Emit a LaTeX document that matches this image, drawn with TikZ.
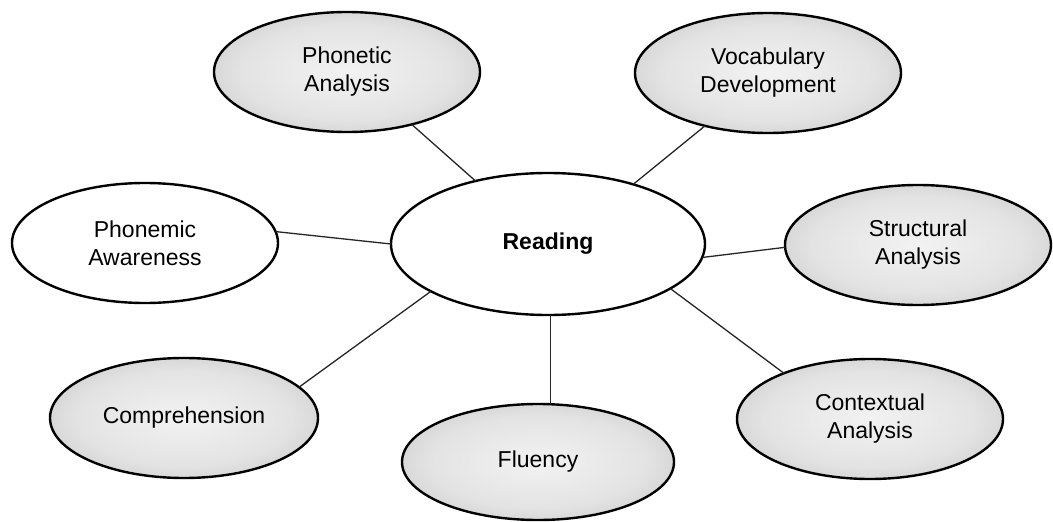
\documentclass[tikz,border=0pt]{standalone}
\usepackage{fontspec}
\setmainfont{Liberation Sans}
\usetikzlibrary{shapes.geometric}
\pgfdeclareradialshading{ellshade}{\pgfpoint{0bp}{0bp}}{color(0bp)=(black!5); color(20bp)=(black!11); color(50bp)=(black!36)}
\tikzset{
  bubble/.style={ellipse, draw=black, line width=2.4pt, inner sep=0pt, outer sep=0pt,
    align=center, font=\fontsize{23}{28}\selectfont, minimum width=266pt, minimum height=120pt},
  shadedbubble/.style={bubble, shading=ellshade},
  plainbubble/.style={bubble, fill=white},
  link/.style={draw=black!85, line width=1.3pt}
}
\begin{document}
\begin{tikzpicture}[x=1pt,y=-1pt]
\useasboundingbox[fill=white] (0,0) rectangle (1053,522);
\node[plainbubble, minimum width=314pt, minimum height=142pt, font=\bfseries\fontsize{23}{28}\selectfont] (R) at (548,244) {Reading};
\node[shadedbubble] (PA) at (347,72) {Phonetic\\Analysis};
\node[shadedbubble] (VD) at (768,73) {Vocabulary\\Development};
\node[plainbubble] (PM) at (145,243) {Phonemic\\Awareness};
\node[shadedbubble] (SA) at (918,245) {Structural\\Analysis};
\node[shadedbubble, minimum width=268pt] (CO) at (184,418) {Comprehension};
\node[shadedbubble, minimum width=272pt, minimum height=116pt] (FL) at (538,462) {Fluency};
\node[shadedbubble] (CA) at (870,419) {Contextual\\Analysis};
\draw[link] (PA.-39) -- (R.139);
\draw[link] (VD.220) -- (R.35);
\draw[link] (PM.5) -- (R.180);
\draw[link] (R.-5) -- (SA.181);
\draw[link] (R.202) -- (CO.15);
\draw[link] (R.-20) -- (CA.152);
\coordinate (fltop) at (FL.north -| R.-88);
\draw[link] (R.-88) -- (fltop);
\end{tikzpicture}
\end{document}
